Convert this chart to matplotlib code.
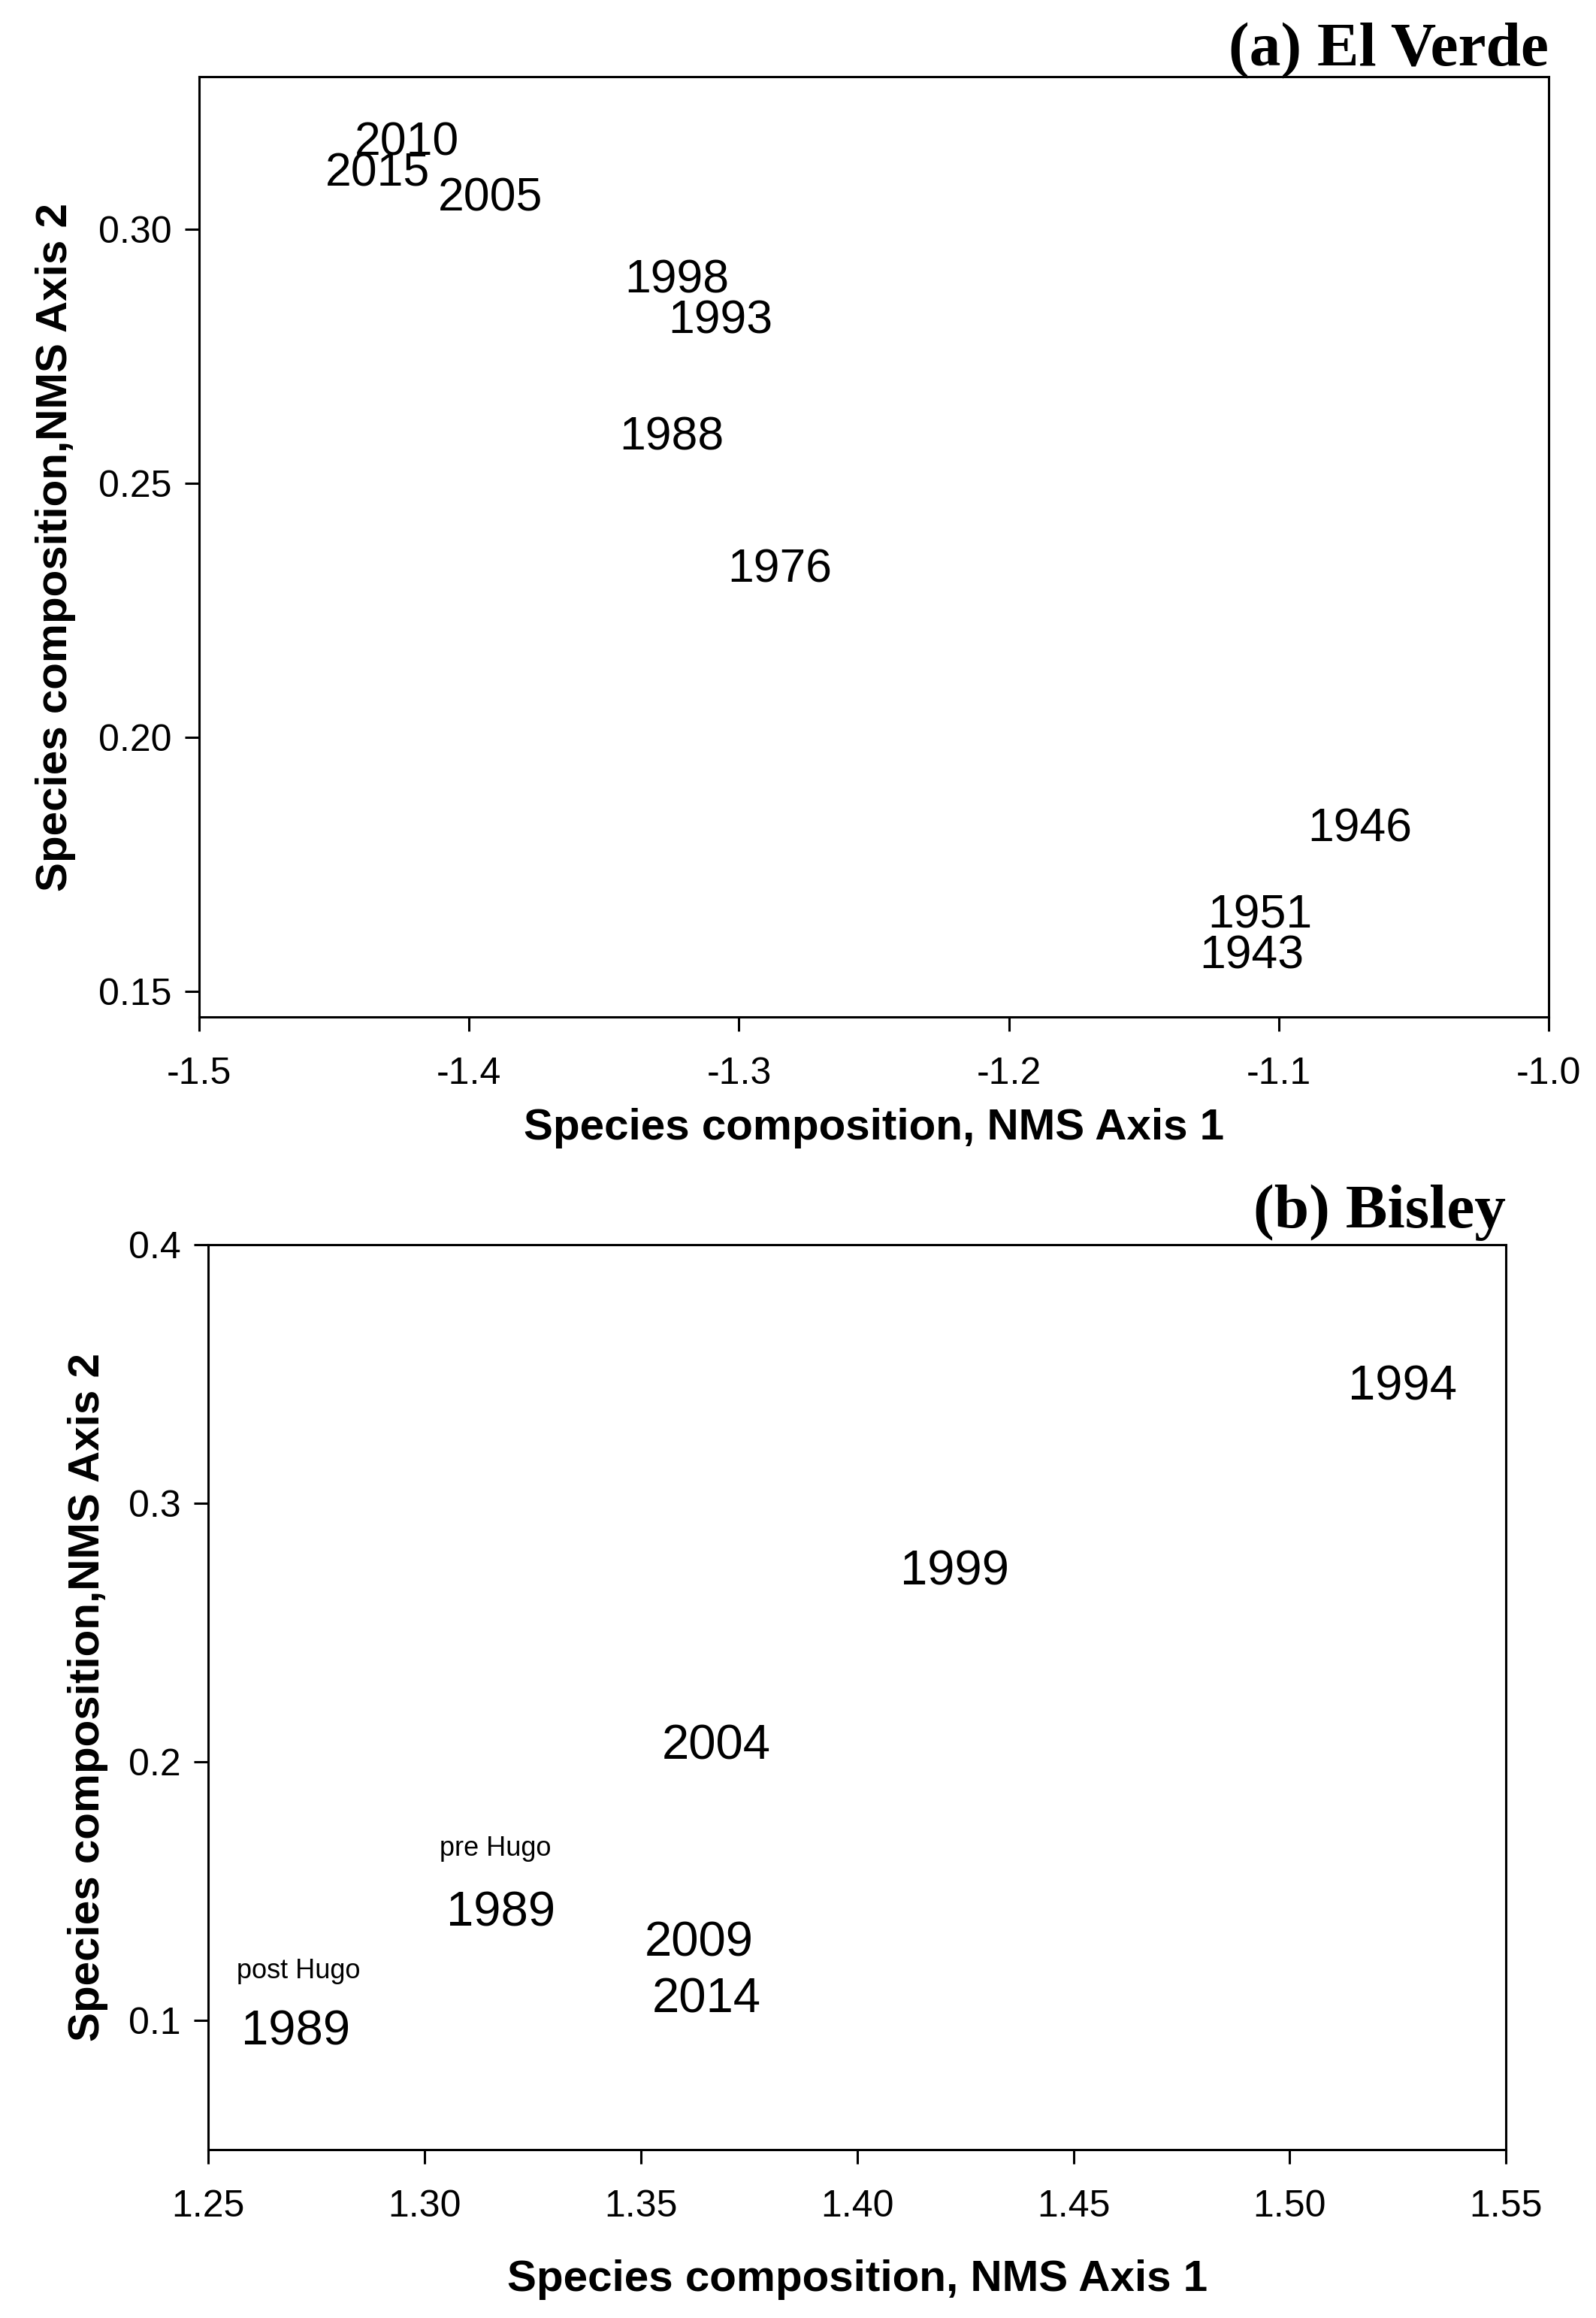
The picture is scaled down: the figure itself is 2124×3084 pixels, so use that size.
import matplotlib
matplotlib.use('Agg')
import matplotlib.pyplot as plt
from matplotlib.ticker import FormatStrFormatter

# (a) El Verde: NMS scores per census year
ev_labels = ['2010', '2015', '2005', '1998', '1993', '1988', '1976', '1946', '1951', '1943']
ev_x = [-1.423, -1.434, -1.392, -1.323, -1.307, -1.325, -1.285, -1.070, -1.107, -1.110]
ev_y = [0.317, 0.311, 0.306, 0.290, 0.282, 0.259, 0.233, 0.182, 0.165, 0.157]

# (b) Bisley
bi_labels = ['1994', '1999', '2004', '1989', '2009', '2014', '1989']
bi_x = [1.526, 1.4225, 1.3675, 1.3177, 1.3634, 1.3651, 1.2702]
bi_y = [0.345, 0.2735, 0.206, 0.1413, 0.1298, 0.108, 0.0955]
bi_notes = ['pre Hugo', 'post Hugo']
bi_note_x = [1.3163, 1.2708]
bi_note_y = [0.1665, 0.1189]

ev_xticks = [-1.5, -1.4, -1.3, -1.2, -1.1, -1.0]
ev_yticks = [0.15, 0.20, 0.25, 0.30]
bi_xticks = [1.25, 1.30, 1.35, 1.40, 1.45, 1.50, 1.55]
bi_yticks = [0.1, 0.2, 0.3, 0.4]

plt.rcParams['font.family'] = ['Liberation Sans', 'DejaVu Sans']
plt.rcParams['axes.unicode_minus'] = False

fig = plt.figure(figsize=(10.62, 15.42), dpi=200)
ax1 = fig.add_axes([0.1248, 0.5613, 0.8456, 0.4056])
ax2 = fig.add_axes([0.1305, 0.0727, 0.8131, 0.3903])

xlab = 'Species composition, NMS Axis 1'
ylab = 'Species composition,NMS Axis 2'

for ax in (ax1, ax2):
    for s in ax.spines.values():
        s.set_linewidth(1.1)
    ax.tick_params(direction='out', length=7, width=1.1, labelsize=18, pad=6)

# panel a
for lab, x, y in zip(ev_labels, ev_x, ev_y):
    ax1.text(x, y, lab, fontsize=22.5, ha='center', va='center')
ax1.set_xlim(-1.5, -1.0)
ax1.set_ylim(0.145, 0.33)
ax1.set_xticks(ev_xticks)
ax1.set_yticks(ev_yticks)
ax1.yaxis.set_major_formatter(FormatStrFormatter('%.2f'))
ax1.tick_params(axis='x', pad=12)
ax1.set_xlabel(xlab, fontsize=21, fontweight='bold', labelpad=8)
ax1.set_ylabel(ylab, fontsize=21, fontweight='bold', labelpad=11)
ax1.text(1.0, 1.012, '(a) El Verde', transform=ax1.transAxes, ha='right', va='baseline',
         fontsize=30, fontweight='bold', family='Liberation Serif')

# panel b
for lab, x, y in zip(bi_labels, bi_x, bi_y):
    ax2.text(x, y, lab, fontsize=23.5, ha='center', va='center')
for lab, x, y in zip(bi_notes, bi_note_x, bi_note_y):
    ax2.text(x, y, lab, fontsize=13, ha='center', va='center')
ax2.set_xlim(1.25, 1.55)
ax2.set_ylim(0.05, 0.4)
ax2.set_xticks(bi_xticks)
ax2.set_yticks(bi_yticks)
ax2.xaxis.set_major_formatter(FormatStrFormatter('%.2f'))
ax2.yaxis.set_major_formatter(FormatStrFormatter('%.1f'))
ax2.tick_params(axis='x', pad=12)
ax2.set_xlabel(xlab, fontsize=21, fontweight='bold', labelpad=17)
ax2.set_ylabel(ylab, fontsize=21, fontweight='bold', labelpad=10)
ax2.text(1.0, 1.019, '(b) Bisley', transform=ax2.transAxes, ha='right', va='baseline',
         fontsize=30, fontweight='bold', family='Liberation Serif')

fig.savefig('out.png', dpi=200)
